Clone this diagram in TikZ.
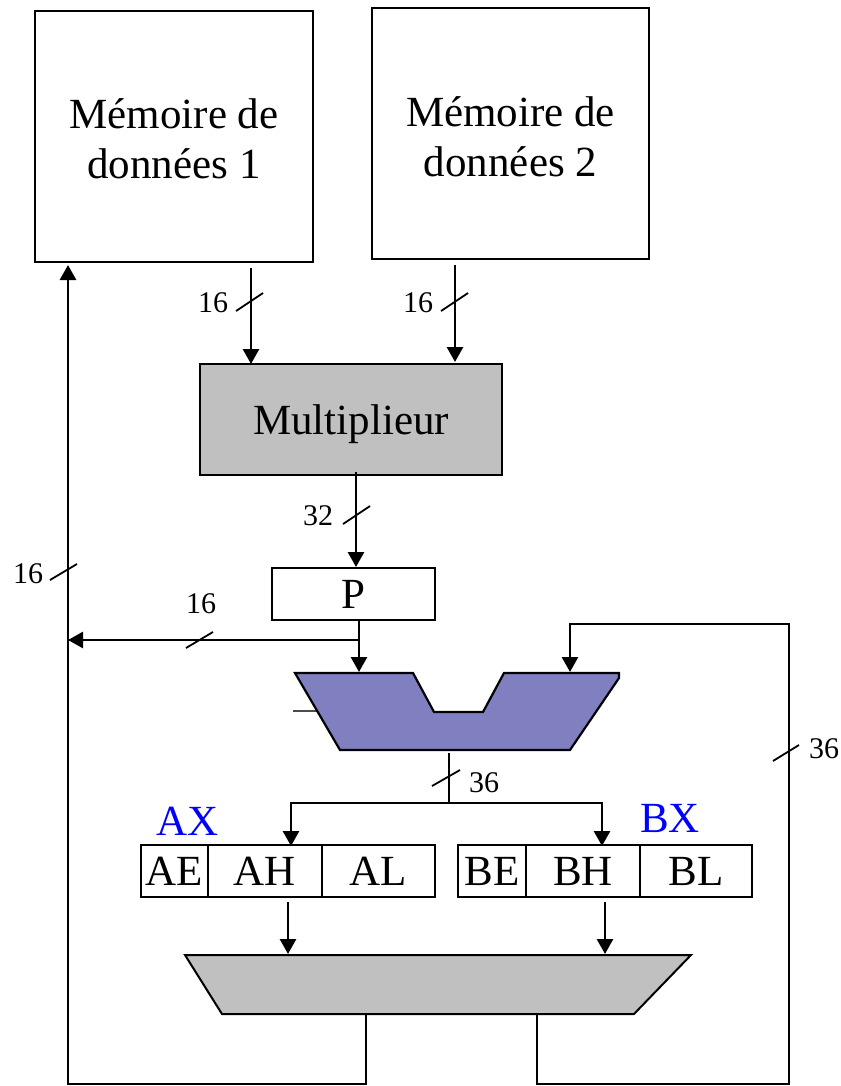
\documentclass[tikz,border=0pt]{standalone}
\usepackage{fontspec}
\setmainfont{Liberation Serif}
\usetikzlibrary{arrows.meta}
\definecolor{alucol}{RGB}{128,128,192}
\definecolor{mulcol}{RGB}{192,192,192}
\tikzset{
	box/.style={draw, line width=2pt, inner sep=0pt, font=\fontsize{43}{51}\selectfont, align=center},
	bus/.style={line width=2.8pt, -{Triangle[length=15pt,width=16pt]}},
	wire/.style={line width=2.8pt},
	tick/.style={line width=1.8pt},
	size/.style={inner sep=0pt, font=\fontsize{30}{36}\selectfont},
	regname/.style={inner sep=0pt, text=blue, font=\fontsize{43}{51}\selectfont}
}
\begin{document}
\begin{tikzpicture}[x=1pt, y=-1pt]
	\useasboundingbox (0, 0) rectangle (840, 1086);

	\node [box, minimum width=278pt, minimum height=251pt] (mem1) at (174, 136.5) {};
	\node [inner sep=0pt, align=center, font=\fontsize{43}{50}\selectfont] (mem1txt) at (174, 139) {Mémoire de\\données 1};
	\node [box, minimum width=277pt, minimum height=251pt] (mem2) at (510.5, 133.5) {};
	\node [inner sep=0pt, align=center, font=\fontsize{43}{50}\selectfont] (mem2txt) at (510.5, 137) {Mémoire de\\données 2};
	\node [box, fill=mulcol, text depth=0pt, minimum width=302pt, minimum height=111pt] (mul) at (351, 419.5) {Multiplieur};
	\node [box, minimum width=163pt, minimum height=52pt] (preg) at (353.5, 594) {P};

	\node [box, minimum width=67pt, minimum height=52pt] (ae) at (174.5, 871) {AE};
	\node [box, minimum width=114pt, minimum height=52pt] (ah) at (265, 871) {AH};
	\node [box, minimum width=113pt, minimum height=52pt] (al) at (378.5, 871) {AL};
	\node [box, minimum width=68pt, minimum height=52pt] (be) at (492, 871) {BE};
	\node [box, minimum width=114pt, minimum height=52pt] (bh) at (583, 871) {BH};
	\node [box, minimum width=112pt, minimum height=52pt] (bl) at (696, 871) {BL};
	\node [regname] (ax) at (188, 821) {AX};
	\node [regname] (bx) at (670, 818) {BX};

	\draw [line width=1.4pt, black!70] (293, 711) -- (318, 711);
	\draw [line width=2.2pt, fill=alucol] (295, 673) -- (413, 673) -- (434, 712) -- (483, 712) -- (504, 673)
		-- (619, 673) -- (619, 678) -- (570, 750) -- (340, 750) -- cycle;
	\draw [line width=2pt, fill=mulcol] (185, 955) -- (691, 955) -- (634, 1014) -- (222, 1014) -- cycle;

	\coordinate (mula) at (251, 364);
	\coordinate (mulb) at (455, 362);
	\coordinate (mulc) at (356, 472);
	\coordinate (alua) at (359, 672);
	\coordinate (alub) at (570, 672);
	\coordinate (aluc) at (449, 753);
	\coordinate (split) at (449, 803);
	\coordinate (ahin) at (291, 846);
	\coordinate (bhin) at (602, 846);
	\coordinate (adda) at (288, 954);
	\coordinate (addb) at (605, 954);
	\coordinate (addc) at (366, 1014);
	\coordinate (addd) at (537, 1014);
	\coordinate (memin) at (68, 265);
	\coordinate (back) at (68, 640);
	\coordinate (tap) at (359, 640);
	\coordinate (low1) at (68, 1084);
	\coordinate (low2) at (366, 1084);
	\coordinate (low3) at (537, 1084);
	\coordinate (low4) at (789, 1084);
	\coordinate (up) at (789, 624);
	\coordinate (upin) at (570, 624);

	\draw [bus, shorten <=5pt] (mem1.south -| mula) -- (mula);
	\draw [bus, shorten <=5pt] (mem2.south -| mulb) -- (mulb);
	\draw [bus] (mulc) -- (preg.north -| mulc);
	\draw [bus] (preg.south -| alua) -- (alua);
	\draw [bus] (tap) -- (back);
	\draw [wire] (aluc) -- (split);
	\draw [bus] (split) -| (ahin);
	\draw [bus] (split) -| (bhin);
	\draw [bus, shorten <=4pt] (ah.south -| adda) -- (adda);
	\draw [bus, shorten <=4pt] (bh.south -| addb) -- (addb);
	\draw [bus] (addc) -- (low2) -- (low1) -- (memin);
	\draw [bus] (addd) -- (low3) -- (low4) -- (up) -- (upin) -- (alub);

	\draw [tick] (236, 311) -- (263, 293);
	\draw [tick] (441, 311) -- (468, 293);
	\draw [tick] (343, 524) -- (370, 506);
	\draw [tick] (50, 580) -- (77, 564);
	\draw [tick] (186, 648) -- (213, 632);
	\draw [tick] (432, 786) -- (460, 770);
	\draw [tick] (773, 761) -- (799, 745);

	\node [size] (s1) at (213, 303) {16};
	\node [size] (s2) at (418, 303) {16};
	\node [size] (s3) at (318, 516) {32};
	\node [size] (s4) at (28, 574) {16};
	\node [size] (s5) at (201, 604) {16};
	\node [size] (s6) at (484, 783) {36};
	\node [size] (s7) at (824, 749) {36};
\end{tikzpicture}
\end{document}
